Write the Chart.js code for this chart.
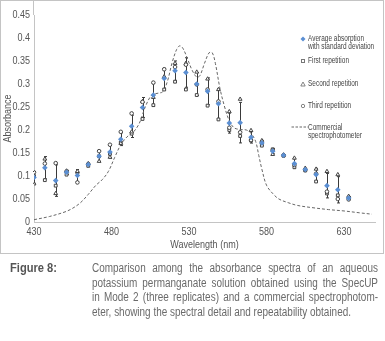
<!DOCTYPE html>
<html>
<head>
<meta charset="utf-8">
<script src="https://cdn.jsdelivr.net/npm/chart.js@4/dist/chart.umd.min.js"></script>
<style>
  html, body { margin:0; padding:0; background:#fff; }
  body { width:385px; height:341px; position:relative; overflow:hidden; font-family:"Liberation Sans",Arial,sans-serif; }
  #frame { position:absolute; left:0; top:0; width:382px; height:252px; border:1px solid #c4c4c4; pointer-events:none; }
  #wrap { position:absolute; left:0; top:0; width:384px; height:254px; }
  .lg { position:absolute; font-size:8.6px; line-height:8px; color:#444; white-space:nowrap; transform-origin:0 0; }
  .mk { position:absolute; }
  .cl { position:absolute; left:92px; font-size:12px; line-height:14px; height:14px; color:#6a6a6a; white-space:nowrap; transform-origin:0 0; }
  .cl.j { text-align:justify; text-align-last:justify; }
  #figlab { position:absolute; left:10px; top:261px; font-size:12px; line-height:14px; font-weight:bold; color:#555; white-space:nowrap; transform-origin:0 0; }
</style>
</head>
<body>
<div id="wrap"><canvas id="c" width="384" height="254"></canvas></div>
<div id="frame"></div>

<svg class="mk" style="left:300px;top:36px" width="6" height="6"><polygon points="3,0.5 5.5,3 3,5.5 0.5,3" fill="#5b8fd3"/></svg>
<div class="lg" id="lg1" style="left:308px;top:34px">Average absorption<br>with standard deviation</div>
<svg class="mk" style="left:300px;top:58px" width="6" height="6"><rect x="1.5" y="1.5" width="3" height="3" fill="#fff" stroke="#777" stroke-width="1"/></svg>
<div class="lg" style="left:308px;top:56px">First repetition</div>
<svg class="mk" style="left:300px;top:81px" width="6" height="6"><polygon points="3,1 5.2,5 0.8,5" fill="#fff" stroke="#777" stroke-width="0.9"/></svg>
<div class="lg" style="left:308px;top:78.5px">Second repetition</div>
<svg class="mk" style="left:300px;top:103px" width="6" height="6"><circle cx="3" cy="3" r="1.7" fill="#fff" stroke="#777" stroke-width="0.9"/></svg>
<div class="lg" style="left:308px;top:101px">Third repetition</div>
<svg class="mk" style="left:291px;top:125px" width="17" height="4"><line x1="0.5" y1="2" x2="17" y2="2" stroke="#666" stroke-width="1" stroke-dasharray="2.5,1.5"/></svg>
<div class="lg" style="left:308px;top:122.5px">Commercial<br>spectrophotometer</div>

<div id="figlab">Figure 8:</div>
<div class="cl j" style="top:261px">Comparison among the absorbance spectra of an aqueous</div>
<div class="cl j" style="top:275.5px">potassium permanganate solution obtained using the SpecUP</div>
<div class="cl j" style="top:290px">in Mode 2 (three replicates) and a commercial spectrophotom-</div>
<div class="cl" id="lastline" style="top:304.5px">eter, showing the spectral detail and repeatability obtained.</div>

<script>
// ---- data ----
const wavelengths = [430,437,444,451,458,465,472,479,486,493,500,507,514,521,528,535,542,549,556,563,570,577,584,591,598,605,612,619,626,633];
const avgAbs    = [0.097,0.118,0.090,0.108,0.101,0.125,0.143,0.152,0.180,0.208,0.249,0.276,0.312,0.329,0.325,0.300,0.284,0.257,0.215,0.216,0.184,0.172,0.154,0.145,0.127,0.114,0.103,0.079,0.070,0.052];
const firstRep  = [0.100,0.091,0.079,0.103,0.107,0.122,0.143,0.148,0.173,0.192,0.224,0.254,0.288,0.305,0.288,0.276,0.253,0.223,0.200,0.187,0.177,0.166,0.158,0.144,0.119,0.112,0.088,0.062,0.058,0.053];
const secondRep = [0.083,0.137,0.062,0.111,0.110,0.127,0.132,0.141,0.171,0.196,0.262,0.271,0.316,0.345,0.345,0.326,0.311,0.288,0.240,0.267,0.199,0.177,0.147,0.146,0.139,0.117,0.115,0.110,0.103,0.056];
const thirdRep  = [0.108,0.127,0.128,0.110,0.086,0.126,0.154,0.168,0.196,0.236,0.261,0.303,0.332,0.337,0.342,0.299,0.288,0.262,0.205,0.195,0.178,0.172,0.156,0.145,0.124,0.113,0.105,0.066,0.050,0.049];
const commWl  = [430,440,450,455,460,465,470,474,478,482,486,490,494,498,502,506,510,513,516,519,522,524,526,529,532,535,537,540,543,545,547,550,553,556,559,563,567,570,573,575,577,580,584,588,594,600,610,620,630,640,648];
const commAbs = [0.005,0.012,0.022,0.030,0.042,0.060,0.080,0.092,0.110,0.140,0.168,0.185,0.195,0.215,0.252,0.276,0.280,0.283,0.305,0.345,0.375,0.383,0.378,0.355,0.330,0.315,0.318,0.345,0.368,0.368,0.345,0.290,0.250,0.220,0.205,0.201,0.200,0.193,0.175,0.145,0.115,0.080,0.062,0.050,0.042,0.036,0.031,0.027,0.024,0.020,0.017];
const xTicks = [430,480,530,580,630];
const yTicks = [0,0.05,0.1,0.15,0.2,0.25,0.3,0.35,0.4,0.45];

// ---- condensed-looking text (the reference uses a narrow typeface) ----
function fitWidth(el, target) {
  const w = el.getBoundingClientRect().width;
  el.style.transform = 'scaleX(' + (target / w) + ')';
  return target / w;
}
const capScale = 259 / document.getElementById('lastline').getBoundingClientRect().width;
document.getElementById('lastline').style.transform = 'scaleX(' + capScale + ')';
document.querySelectorAll('.cl.j').forEach(el => {
  el.style.width = (286 / capScale) + 'px';
  el.style.transform = 'scaleX(' + capScale + ')';
});
fitWidth(document.getElementById('figlab'), 47);
const lgLine = document.createElement('span');
lgLine.textContent = 'Average absorption';
lgLine.style.cssText = 'position:absolute;visibility:hidden;font-size:8.6px;white-space:nowrap';
document.body.appendChild(lgLine);
const lgScale = 56 / lgLine.getBoundingClientRect().width;
document.querySelectorAll('.lg').forEach(el => { el.style.transform = 'scaleX(' + lgScale + ')'; });

const canvas = document.getElementById('c');
const ctx2d = canvas.getContext('2d');
const rawFill = ctx2d.fillText.bind(ctx2d);
ctx2d.fillText = function (t, x, y, mw) {
  ctx2d.save();
  ctx2d.translate(x, y);
  ctx2d.scale(0.82, 1);
  rawFill(t, 0, 0);
  ctx2d.restore();
};

const pts = (xs, ys) => xs.map((x, i) => ({x, y: ys[i]}));
const sdOf = i => {
  const v = [firstRep[i], secondRep[i], thirdRep[i]];
  const m = (v[0]+v[1]+v[2])/3;
  return Math.sqrt(v.reduce((s, a) => s + (a-m)*(a-m), 0) / 2);
};

const FONT = '"Liberation Sans", Arial, sans-serif';

const errorBars = {
  id: 'errorBars',
  beforeDatasetsDraw(chart) {
    const {ctx, scales: {x, y}, chartArea} = chart;
    ctx.save();
    // y-axis line continues up to the frame top
    ctx.strokeStyle = '#c4c4c4';
    ctx.lineWidth = 1;
    ctx.beginPath();
    ctx.moveTo(chartArea.left - 0.5, 0);
    ctx.lineTo(chartArea.left - 0.5, chartArea.top);
    ctx.stroke();
    ctx.strokeStyle = '#3a3a3a';
    wavelengths.forEach((w, i) => {
      const sd = sdOf(i);
      const px = Math.round(x.getPixelForValue(w)) + 0.5;
      const y1 = y.getPixelForValue(avgAbs[i] + sd);
      const y2 = y.getPixelForValue(avgAbs[i] - sd);
      ctx.beginPath();
      ctx.moveTo(px, y1); ctx.lineTo(px, y2);
      ctx.moveTo(px - 1.5, y1); ctx.lineTo(px + 1.5, y1);
      ctx.moveTo(px - 1.5, y2); ctx.lineTo(px + 1.5, y2);
      ctx.stroke();
    });
    ctx.restore();
  }
};

new Chart(canvas, {
  type: 'scatter',
  data: {
    datasets: [
      { label: 'Commercial spectrophotometer', data: pts(commWl, commAbs), showLine: true,
        borderColor: '#666', borderWidth: 1, borderDash: [3, 2], pointRadius: 0, tension: 0.35, order: 5 },
      { label: 'First repetition', data: pts(wavelengths, firstRep), pointStyle: 'rect', pointRadius: 2,
        backgroundColor: '#fff', borderColor: '#444', borderWidth: 1, order: 4 },
      { label: 'Second repetition', data: pts(wavelengths, secondRep), pointStyle: 'triangle', pointRadius: 2.2,
        backgroundColor: '#fff', borderColor: '#444', borderWidth: 1, order: 3 },
      { label: 'Third repetition', data: pts(wavelengths, thirdRep), pointStyle: 'circle', pointRadius: 1.8,
        backgroundColor: '#fff', borderColor: '#444', borderWidth: 1, order: 2 },
      { label: 'Average absorption with standard deviation', data: pts(wavelengths, avgAbs), pointStyle: 'rectRot', pointRadius: 2.8,
        backgroundColor: '#5b8fd3', borderColor: '#5b8fd3', borderWidth: 0, order: 1 }
    ]
  },
  options: {
    responsive: false,
    animation: false,
    events: [],
    layout: { padding: { left: 0, right: 9, top: 15, bottom: 0 } },
    plugins: { legend: { display: false }, tooltip: { enabled: false } },
    scales: {
      x: {
        type: 'linear', min: 430, max: 650,
        afterBuildTicks: s => { s.ticks = xTicks.map(v => ({value: v})); },
        afterFit: s => { s.height = 32; },
        grid: { display: false, drawTicks: false },
        border: { display: true, color: '#c4c4c4', width: 1 },
        ticks: { color: '#555', font: { family: FONT, size: 11 }, padding: 3, maxRotation: 0, autoSkip: false },
        title: { display: true, text: 'Wavelength (nm)', color: '#555', font: { family: FONT, size: 11 }, padding: { top: 0, bottom: 2 } }
      },
      y: {
        type: 'linear', min: 0, max: 0.45,
        afterBuildTicks: s => { s.ticks = yTicks.map(v => ({value: v})); },
        afterFit: s => { s.width = 34; },
        grid: { display: false, drawTicks: false },
        border: { display: true, color: '#c4c4c4', width: 1 },
        ticks: { color: '#555', font: { family: FONT, size: 11 }, padding: 4, autoSkip: false,
                 callback: v => String(+v.toFixed(2)) },
        title: { display: true, text: 'Absorbance', color: '#555', font: { family: FONT, size: 11 }, padding: { top: 1, bottom: 0 } }
      }
    }
  },
  plugins: [errorBars]
});
</script>
</body>
</html>
